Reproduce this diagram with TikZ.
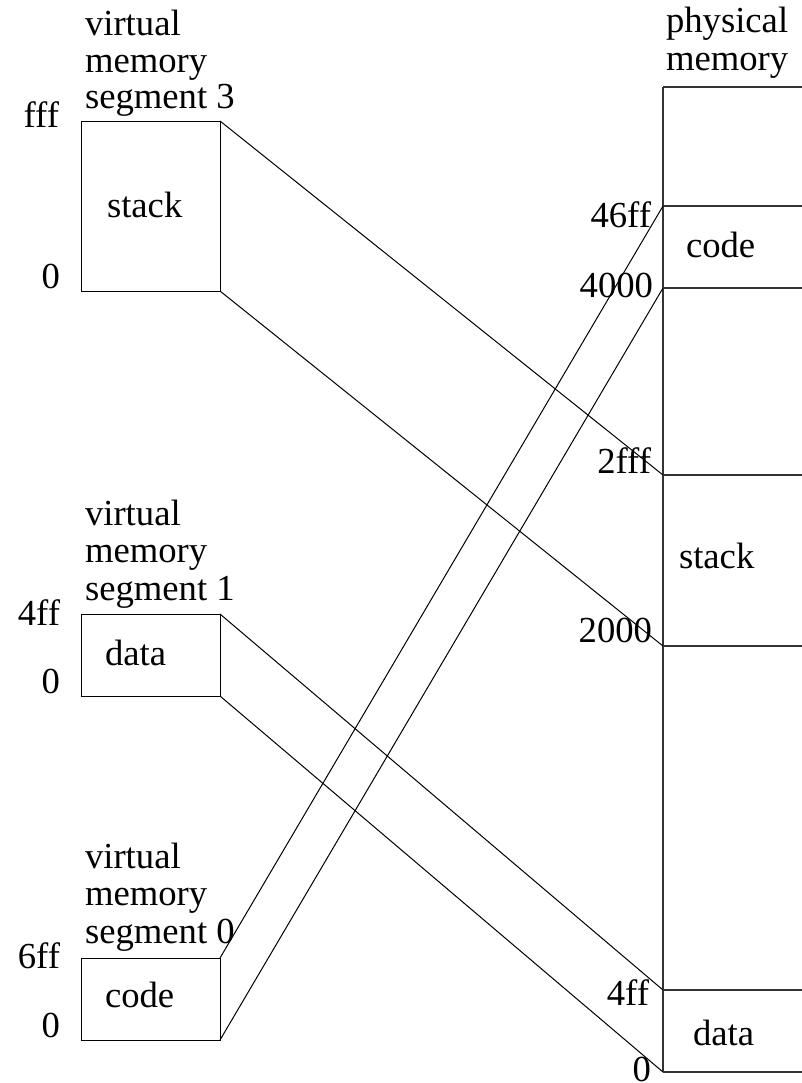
\documentclass[tikz,border=0pt]{standalone}
\usepackage{fontspec}
\setmainfont{Liberation Serif}
\begin{document}
\begin{tikzpicture}[x=0.75pt,y=-0.75pt,
  lbl/.style={font=\fontsize{27.5}{30}\selectfont, inner sep=0pt, outer sep=0pt},
  segbox/.style={draw, line width=0.75pt, inner sep=0pt, outer sep=0pt, minimum width=104.25pt, anchor=north west},
  wire/.style={line width=0.75pt},
  pline/.style={line width=0.9pt, draw=black!80}]
\useasboundingbox (0,0) rectangle (801,1083);

% ---------- virtual segment 3 ----------
\node[lbl, anchor=base west] (t3a) at (85,35) {virtual};
\node[lbl, anchor=base west] (t3b) at (85,72) {memory};
\node[lbl, anchor=base west] (t3c) at (85,108) {segment 3};
\node[segbox, minimum height=127.5pt] (seg3) at (81,121) {};
\node[lbl, anchor=base west] (s3txt) at (107,217) {stack};
\node[lbl, anchor=base east] (s3hi) at (59,127) {fff};
\node[lbl, anchor=base east] (s3lo) at (60,288) {0};

% ---------- virtual segment 1 ----------
\node[lbl, anchor=base west] (t1a) at (85,525) {virtual};
\node[lbl, anchor=base west] (t1b) at (85,562) {memory};
\node[lbl, anchor=base west] (t1c) at (85,600) {segment 1};
\node[segbox, minimum height=61.5pt] (seg1) at (81,614) {};
\node[lbl, anchor=base west] (s1txt) at (105,665) {data};
\node[lbl, anchor=base east] (s1hi) at (60,625) {4ff};
\node[lbl, anchor=base east] (s1lo) at (60,693) {0};

% ---------- virtual segment 0 ----------
\node[lbl, anchor=base west] (t0a) at (85,868) {virtual};
\node[lbl, anchor=base west] (t0b) at (85,905) {memory};
\node[lbl, anchor=base west] (t0c) at (85,943) {segment 0};
\node[segbox, minimum height=61.5pt] (seg0) at (81,958) {};
\node[lbl, anchor=base west] (s0txt) at (105,1007) {code};
\node[lbl, anchor=base east] (s0hi) at (60,968) {6ff};
\node[lbl, anchor=base east] (s0lo) at (60,1037) {0};

% ---------- physical memory ----------
\node[lbl, anchor=base west] (pta) at (666,32) {physical};
\node[lbl, anchor=base west] (ptb) at (666,70) {memory};

\coordinate (ptop) at (663,87);
\coordinate (p46ff) at (663,206);
\coordinate (p4000) at (663,288);
\coordinate (p2fff) at (663,475);
\coordinate (p2000) at (663,646);
\coordinate (p4ff) at (663,990);
\coordinate (p0) at (663,1072);

\draw[pline] (ptop) -- (p0);
\foreach \c in {ptop,p46ff,p4000,p2fff,p2000,p4ff,p0}
  \draw[pline] (\c) -- ++(140,0);

\node[lbl, anchor=base west] (pcode) at (686,257) {code};
\node[lbl, anchor=base west] (pstack) at (679,568) {stack};
\node[lbl, anchor=base west] (pdata) at (693,1045) {data};

\node[lbl, anchor=base east] (l46ff) at (651,227) {46ff};
\node[lbl, anchor=base east] (l4000) at (653,297) {4000};
\node[lbl, anchor=base east] (l2fff) at (651,473) {2fff};
\node[lbl, anchor=base east] (l2000) at (652,642) {2000};
\node[lbl, anchor=base east] (l4ff) at (649,1005) {4ff};
\node[lbl, anchor=base east] (l0) at (651,1081) {0};

% ---------- connectors ----------
\draw[wire] (seg3.north east) -- (p2fff);
\draw[wire] (seg3.south east) -- (p2000);
\draw[wire] (seg1.north east) -- (p4ff);
\draw[wire] (seg1.south east) -- (p0);
\draw[wire] (seg0.north east) -- (p46ff);
\draw[wire] (seg0.south east) -- (p4000);
\end{tikzpicture}
\end{document}
